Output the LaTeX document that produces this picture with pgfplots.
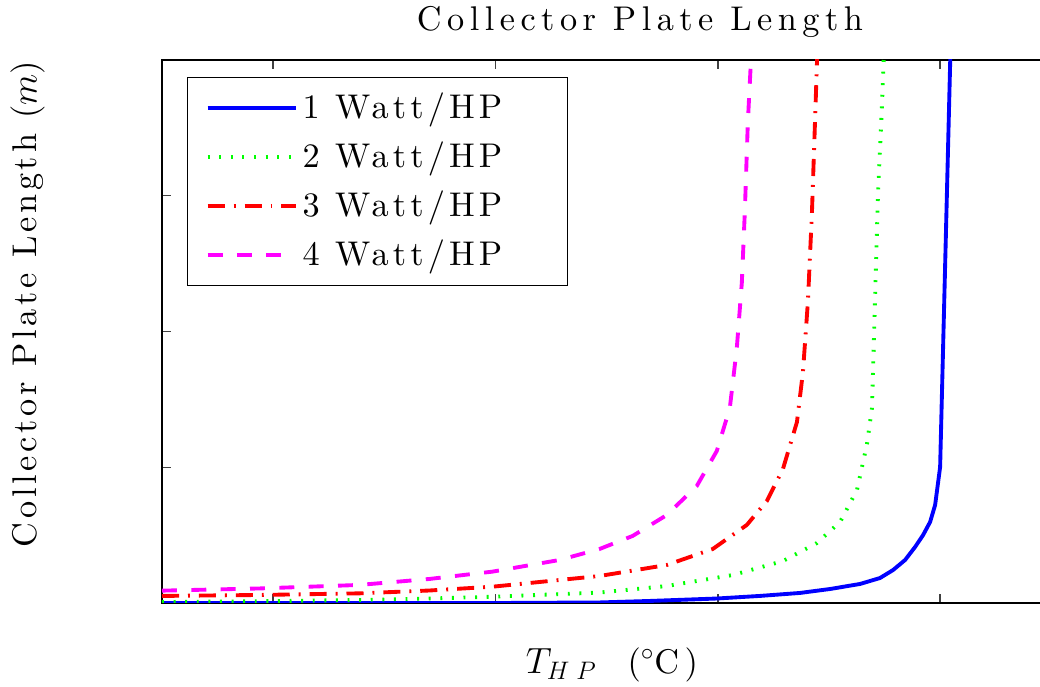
\documentclass[border=0pt]{standalone}
\usepackage{fontspec}
\setmainfont{lmroman10-regular.otf}[ItalicFont=lmroman10-italic.otf, BoldFont=lmroman10-bold.otf]
\usepackage{pgfplots}
\pgfplotsset{compat=1.18}

\definecolor{mblue}{RGB}{0,0,255}
\definecolor{mgreen}{RGB}{0,255,0}
\definecolor{mred}{RGB}{255,0,0}
\definecolor{mmag}{RGB}{255,0,255}

% MATLAB-style spaced lettering
\newcommand\bigfont[1]{\fontsize{19.5}{23}\selectfont\addfontfeature{LetterSpace=#1}}
\newcommand\entry[1]{\makebox[4.94cm][l]{#1}}

\begin{document}
\begin{tikzpicture}
\begin{axis}[
    scale only axis,
    width=19.12cm,
    height=10.86cm,
    xmin=30, xmax=116,
    ymin=0, ymax=4,
    xtick={40,60,80,100},
    ytick={1,2,3},
    xticklabels={}, yticklabels={},
    tick align=inside,
    xtick pos=both, ytick pos=left,
    major tick length=0.18cm,
    axis line style={line width=1pt},
    tick style={line width=0.8pt, black!75},
    every axis title shift=0pt,
    title={Collector Plate Length},
    title style={font=\bigfont{16}, at={(axis description cs:0.5,1.07)}, anchor=center},
    xlabel={$T_{H\;P}$\hspace{0.9em}(${}^\circ$C)},
    xlabel style={font=\bigfont{16}, at={(axis description cs:0.4707,-0.1142)}, anchor=center},
    ylabel={Collector Plate Length ($m$)},
    ylabel style={font=\bigfont{11}, at={(axis description cs:-0.1402,0.5506)}, anchor=center},
    legend style={
        at={(axis description cs:0.02615,0.9687)}, anchor=north west,
        draw=black, line width=0.8pt,
        font=\bigfont{12},
        inner xsep=0.36cm, inner ysep=0.12cm,
        row sep=0pt, column sep=0.1cm,
        nodes={inner sep=0pt, text height=0.7cm, text depth=0.28cm},
    },
    legend cell align=left,
    legend image code/.code={\draw[#1] (0cm,0cm) -- (1.76cm,0cm);},
    line cap=butt,
]
\addplot[mblue, line width=2.2pt] coordinates {
(30,0) (42.34,0) (51.35,0) (60.36,0) (69.37,0.004) (73.87,0.015)
(79.91,0.033) (83.78,0.052) (87.39,0.074) (90.09,0.103) (92.79,0.140)
(94.59,0.184) (95.77,0.243) (96.85,0.317) (97.75,0.413) (98.47,0.501)
(99.10,0.597) (99.55,0.722) (100.0,1.002) (101.0,4.3)
};
\addlegendentry{\entry{1 Watt/HP}}

\addplot[mgreen, line width=2.2pt, dash pattern=on 1.1pt off 5.5pt] coordinates {
(30,0.007) (38.74,0.013) (47.75,0.022) (54.05,0.033) (59.73,0.046)
(69.37,0.077) (75.41,0.125) (81.35,0.206) (85.86,0.309) (88.92,0.442)
(91.0,0.597) (92.52,0.832) (93.42,1.171) (93.87,1.436) (94.14,2.225)
(94.41,3.013) (94.77,3.669) (94.95,4.07)
};
\addlegendentry{\entry{2 Watt/HP}}

\addplot[mred, line width=2.2pt, dash pattern=on 9.7pt off 5.1pt on 1.1pt off 5.1pt] coordinates {
(30,0.052) (38.74,0.059) (47.75,0.071) (54.05,0.092) (59.73,0.120)
(69.37,0.199) (75.41,0.280) (79.55,0.398) (82.61,0.575) (84.41,0.751)
(85.86,0.987) (87.12,1.333) (87.66,1.702) (88.11,2.225) (88.47,2.880)
(88.74,3.536) (88.92,3.978) (89.01,4.147)
};
\addlegendentry{\entry{3 Watt/HP}}

\addplot[mmag, line width=2.2pt, dash pattern=on 8.5pt off 8.2pt] coordinates {
(30,0.091) (38.74,0.107) (47.75,0.133) (54.05,0.177) (59.73,0.231)
(65.77,0.317) (69.37,0.398) (72.34,0.494) (75.41,0.648) (78.11,0.862)
(79.91,1.120) (81.08,1.436) (81.71,1.878) (82.16,2.357) (82.43,2.880)
(82.70,3.536) (82.97,3.978) (83.06,4.147)
};
\addlegendentry{\entry{4 Watt/HP}}

\coordinate (sw) at (rel axis cs:0,0);
\coordinate (nw) at (rel axis cs:0,1);
\end{axis}
\pgfresetboundingbox
\path[use as bounding box] ([xshift=-3.24cm,yshift=-1.68cm]sw) rectangle ([xshift=17.56cm,yshift=1.2cm]nw);
\end{tikzpicture}
\end{document}
